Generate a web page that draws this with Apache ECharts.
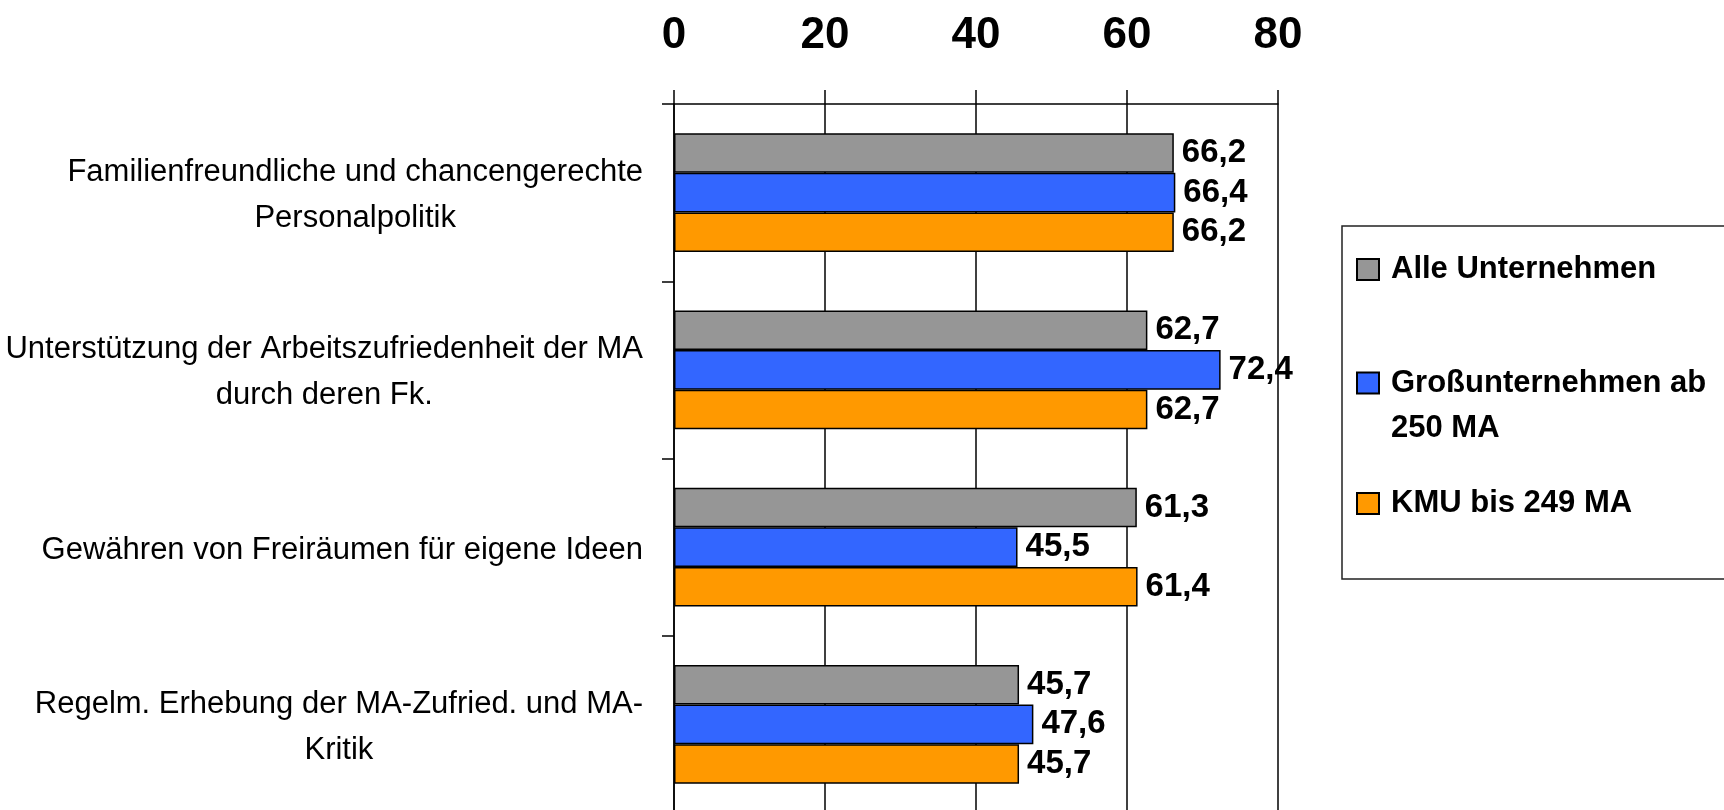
<!DOCTYPE html>
<html>
<head>
<meta charset="utf-8">
<script src="https://cdn.jsdelivr.net/npm/echarts@6/dist/echarts.min.js"></script>
<style>
  html, body { margin: 0; padding: 0; background: #fff; }
  #chart { width: 1724px; height: 810px; }
</style>
</head>
<body>
<div id="chart"></div>
<script>
// Survey results: share of companies per measure, by company size
const categories = [
  'Familienfreundliche und chancengerechte\nPersonalpolitik',
  'Unterstützung der Arbeitszufriedenheit der MA\ndurch deren Fk.',
  'Gewähren von Freiräumen für eigene Ideen',
  'Regelm. Erhebung der MA-Zufried. und MA-\nKritik'
];
const seriesNames = ['Alle Unternehmen', 'Großunternehmen ab\n250 MA', 'KMU bis 249 MA'];
const alleUnternehmen = [66.2, 62.7, 61.3, 45.7];
const grossunternehmen = [66.4, 72.4, 45.5, 47.6];
const kmu = [66.2, 62.7, 61.4, 45.7];
const axisMin = 0, axisMax = 80, axisStep = 20;

const FONT = "'Liberation Sans', Arial, sans-serif";
const colors = ['#969696', '#3366FF', '#FF9900'];
const values = [alleUnternehmen, grossunternehmen, kmu];

const fmtValue = v => v.toFixed(1).replace('.', ',');

const chart = echarts.init(document.getElementById('chart'), null, { renderer: 'canvas' });

function barSeries(i) {
  return {
    name: seriesNames[i],
    type: 'bar',
    data: values[i],
    barGap: '0%',
    barCategoryGap: '33%',
    itemStyle: { color: colors[i], borderColor: '#000', borderWidth: 1.5 },
    label: {
      show: true,
      position: 'right',
      distance: 8,
      color: '#000',
      fontFamily: FONT,
      fontWeight: 'bold',
      fontSize: 33,
      formatter: p => fmtValue(p.value)
    },
    emphasis: { disabled: true }
  };
}

// one legend block per series so each entry can sit at its own height
function legendFor(i, top, extra) {
  return Object.assign({
    data: [seriesNames[i]],
    left: 1356,
    top: top,
    padding: 0,
    orient: 'vertical',
    icon: 'rect',
    itemWidth: 22,
    itemHeight: 21,
    selectedMode: false,
    textStyle: {
      color: '#000',
      fontFamily: FONT,
      fontWeight: 'bold',
      fontSize: 31,
      lineHeight: 45,
      padding: [0, 0, 0, 7]
    }
  }, extra || {});
}

chart.setOption({
  animation: false,
  backgroundColor: '#fff',
  grid: { left: 674, right: 446, top: 104, bottom: -3, containLabel: false, outerBoundsMode: 'none' },
  xAxis: {
    type: 'value',
    position: 'top',
    min: axisMin,
    max: axisMax,
    interval: axisStep,
    axisLine: { show: true, lineStyle: { color: '#000', width: 1.5 } },
    axisTick: { show: true, length: 14, lineStyle: { color: '#000', width: 1.5 } },
    splitLine: { show: true, lineStyle: { color: '#000', width: 1.5 } },
    axisLabel: {
      color: '#000',
      fontFamily: FONT,
      fontWeight: 'bold',
      fontSize: 44,
      margin: 68,
      verticalAlign: 'middle'
    }
  },
  yAxis: {
    type: 'category',
    inverse: true,
    data: categories,
    axisLine: { show: true, lineStyle: { color: '#000', width: 1.5 } },
    axisTick: { show: true, length: 12, lineStyle: { color: '#000', width: 1.5 } },
    splitLine: { show: false },
    axisLabel: {
      margin: 31,
      color: '#000',
      fontFamily: FONT,
      fontSize: 31,
      lineHeight: 46,
      padding: [6, 0, 0, 0],
      formatter: v => v.split('\n').map(line => '{c|' + line + '}').join('\n'),
      rich: {
        c: { align: 'center', fontFamily: FONT, fontSize: 31, lineHeight: 46, color: '#000' }
      }
    }
  },
  legend: [
    legendFor(0, 247),
    legendFor(1, 315.5, {
      // leading blank line keeps the first text line level with the swatch
      formatter: name => '\n' + name
    }),
    legendFor(2, 481)
  ],
  graphic: [{
    type: 'rect',
    shape: { x: 1342, y: 226, width: 420, height: 353 },
    style: { fill: 'none', stroke: '#222', lineWidth: 1.5 },
    silent: true
  }],
  series: [barSeries(0), barSeries(1), barSeries(2)]
});
</script>
</body>
</html>
